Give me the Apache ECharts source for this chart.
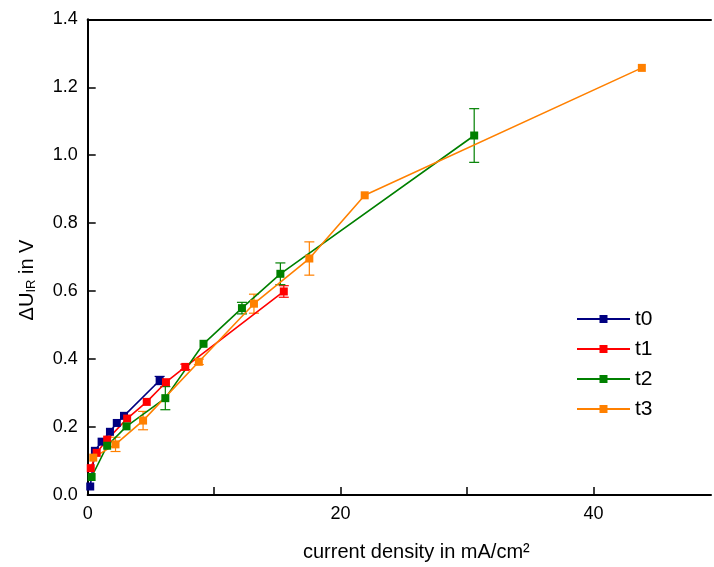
<!DOCTYPE html>
<html><head><meta charset="utf-8">
<script src="https://cdn.jsdelivr.net/npm/echarts@6/dist/echarts.min.js"></script>
<style>html,body{margin:0;padding:0;background:#fff}#c{width:714px;height:567px}</style>
</head><body><div id="c"></div>
<script>
const seriesNames = ['t0', 't1', 't2', 't3'];
const colors = ['#000080', '#FF0000', '#008000', '#FF8000'];
const xTickLabels = ['0', '20', '40'];
const yTickLabels = ['0.0', '0.2', '0.4', '0.6', '0.8', '1.0', '1.2', '1.4'];

const t0X = [0.2, 0.57, 1.1, 1.76, 2.3, 2.87, 5.69];
const t0Y = [0.025, 0.13, 0.157, 0.186, 0.212, 0.233, 0.337];
const t0Err = [0, 0, 0, 0, 0, 0, 0.012];

const t1X = [0.24, 0.71, 1.54, 3.12, 4.67, 6.19, 7.72, 15.51];
const t1Y = [0.079, 0.124, 0.163, 0.225, 0.274, 0.332, 0.377, 0.599];
const t1Err = [0, 0, 0, 0, 0, 0, 0.008, 0.017];

const t2X = [0.31, 1.54, 3.07, 6.14, 9.16, 12.2, 15.24, 30.57];
const t2Y = [0.053, 0.145, 0.202, 0.285, 0.445, 0.55, 0.651, 1.058];
const t2Err = [0, 0, 0, 0.034, 0, 0.017, 0.032, 0.079];

const t3X = [0.44, 2.2, 4.38, 8.79, 13.15, 17.53, 21.91, 43.83];
const t3Y = [0.11, 0.149, 0.219, 0.392, 0.563, 0.696, 0.882, 1.257];
const t3Err = [0, 0.021, 0.027, 0.008, 0.028, 0.049, 0, 0];

const allX = [t0X, t1X, t2X, t3X];
const allY = [t0Y, t1Y, t2Y, t3Y];
const allErr = [t0Err, t1Err, t2Err, t3Err];

const FONT = 'Liberation Sans';
const chart = echarts.init(document.getElementById('c'), null, {renderer: 'canvas'});

const series = [];
seriesNames.forEach((n, i) => {
  series.push({
    name: n, type: 'line', z: 3,
    data: allX[i].map((x, j) => [x, allY[i][j]]),
    symbol: 'rect', symbolSize: 8,
    lineStyle: {color: colors[i], width: 1.6},
    itemStyle: {color: colors[i]},
    emphasis: {disabled: true}
  });
});
seriesNames.forEach((n, i) => {
  const d = [];
  allX[i].forEach((x, j) => { if (allErr[i][j] > 0) d.push([x, allY[i][j] - allErr[i][j], allY[i][j] + allErr[i][j]]); });
  series.push({
    name: n, type: 'custom', z: 2,
    data: d,
    renderItem: function (params, api) {
      const x = api.value(0);
      const lo = api.coord([x, api.value(1)]);
      const hi = api.coord([x, api.value(2)]);
      const hw = 5;
      const st = {stroke: colors[i], lineWidth: 1.2, fill: null};
      return {type: 'group', children: [
        {type: 'line', shape: {x1: lo[0], y1: lo[1], x2: hi[0], y2: hi[1]}, style: st},
        {type: 'line', shape: {x1: lo[0] - hw, y1: lo[1], x2: lo[0] + hw, y2: lo[1]}, style: st},
        {type: 'line', shape: {x1: hi[0] - hw, y1: hi[1], x2: hi[0] + hw, y2: hi[1]}, style: st}
      ]};
    }
  });
});

const XMAX = 49.3;
chart.setOption({
  animation: false,
  backgroundColor: '#fff',
  grid: {left: 87.7, right: 0, top: 19.3, bottom: 71.7, show: false, containLabel: false},
  legend: {
    data: seriesNames, orient: 'vertical', left: 571, top: 303.5,
    itemWidth: 53, itemHeight: 10, itemGap: 9,
    textStyle: {fontFamily: FONT, fontSize: 21, color: '#000', padding: [0, 0, 0, 0]},
    selectedMode: false
  },
  xAxis: [{
    type: 'value', min: 0, max: XMAX, interval: 10,
    axisLine: {lineStyle: {color: '#000', width: 2}},
    axisTick: {inside: true, length: 8, lineStyle: {color: '#000', width: 1.5},
      customValues: [0, 10, 20, 30, 40]},
    splitLine: {show: false},
    axisLabel: {
      fontFamily: FONT, fontSize: 18, color: '#000', margin: 10,
      formatter: v => { const s = String(v); return xTickLabels.indexOf(s) >= 0 ? s : ''; }
    },
    name: 'current density in mA/cm²', nameLocation: 'middle', nameGap: 47,
    nameTextStyle: {fontFamily: FONT, fontSize: 20, color: '#000', padding: [0, 0, 0, 34]}
  }, {
    type: 'value', min: 0, max: XMAX, position: 'top',
    axisLine: {show: true, lineStyle: {color: '#000', width: 2}},
    axisTick: {show: false}, axisLabel: {show: false}, splitLine: {show: false}
  }],
  yAxis: {
    type: 'value', min: 0, max: 1.4, interval: 0.2,
    axisLine: {lineStyle: {color: '#000', width: 2}},
    axisTick: {inside: true, length: 8, lineStyle: {color: '#000', width: 1.5}},
    splitLine: {show: false},
    axisLabel: {fontFamily: FONT, fontSize: 18, color: '#000', margin: 10,
      formatter: v => yTickLabels[Math.round(v / 0.2)]}
  },
  graphic: [{
    type: 'text', x: 27, y: 280, rotation: Math.PI / 2,
    style: {
      text: '{a|ΔU}{s|IR}{a| in V}',
      rich: {
        a: {fontFamily: FONT, fontSize: 20, fill: '#000', verticalAlign: 'bottom'},
        s: {fontFamily: FONT, fontSize: 13, fill: '#000', padding: [8, 0, 0, 0]}
      },
      align: 'center', verticalAlign: 'middle', fill: '#000'
    }
  }],
  series: series
});
</script></body></html>
